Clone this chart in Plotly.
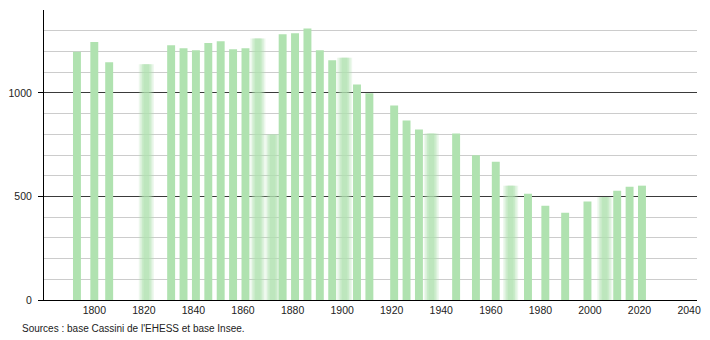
import plotly.graph_objects as go

years = [1793, 1800, 1806, 1821, 1831, 1836, 1841, 1846, 1851, 1856, 1861, 1866,
         1872, 1876, 1881, 1886, 1891, 1896, 1901, 1906, 1911, 1921, 1926, 1931,
         1936, 1946, 1954, 1962, 1968, 1975, 1982, 1990, 1999, 2006, 2011, 2016, 2021]
population = [1199, 1245, 1148, 1138, 1230, 1215, 1206, 1241, 1249, 1211, 1215, 1262,
              799, 1283, 1288, 1311, 1206, 1157, 1170, 1040, 998, 939, 867, 823,
              804, 804, 699, 667, 552, 513, 455, 421, 475, 497, 528, 547, 552]
blurred_years = [1821, 1866, 1872, 1901, 1936, 1968, 2006]

x_tick_values = list(range(1800, 2041, 20))
y_tick_values = [0, 500, 1000]
source_text = "Sources : base Cassini de l'EHESS et base Insee."

BAR_COLOR = "rgb(176,226,176)"
BAR_W = 3.2

fig = go.Figure()

sharp_x = [y for y in years if y not in blurred_years]
sharp_y = [p for y, p in zip(years, population) if y not in blurred_years]
blur_x = [y for y in years if y in blurred_years]
blur_y = [p for y, p in zip(years, population) if y in blurred_years]

fig.add_trace(go.Bar(x=sharp_x, y=sharp_y, width=BAR_W,
                     marker=dict(color=BAR_COLOR, line=dict(width=0)),
                     hoverinfo="x+y", showlegend=False))

for factor, op in [(1.9, 0.22), (1.5, 0.3), (1.1, 0.38), (0.7, 0.45)]:
    fig.add_trace(go.Bar(x=blur_x, y=blur_y, width=BAR_W * factor,
                         marker=dict(color=BAR_COLOR, line=dict(width=0)),
                         opacity=op, hoverinfo="x+y", showlegend=False))

fig.update_layout(
    width=710, height=340,
    margin=dict(l=44, r=9, t=10, b=40),
    paper_bgcolor="white", plot_bgcolor="white",
    barmode="overlay",
    font=dict(family="Liberation Sans, Arial, sans-serif", size=10.5, color="#222"),
    xaxis=dict(range=[1779.7, 2043.2], tickvals=x_tick_values,
               showgrid=False, zeroline=False,
               showline=True, linecolor="black", linewidth=1,
               ticks="", ticklen=0, tickfont=dict(size=10.5, color="#222")),
    yaxis=dict(range=[0, 1400], tickvals=y_tick_values,
               showgrid=True, gridcolor="#3a3a3a", gridwidth=1,
               zeroline=False, showline=True, linecolor="black", linewidth=1,
               ticks="outside", ticklen=5, tickcolor="black",
               ticklabelstandoff=4,
               tickfont=dict(size=10.5, color="#222"),
               minor=dict(dtick=100, showgrid=True, gridcolor="#cccccc",
                          gridwidth=1, ticks="")),
    annotations=[dict(text=source_text, xref="paper", yref="paper",
                      x=-0.0366, y=-0.0966, xanchor="left", yanchor="middle",
                      showarrow=False, font=dict(size=10, color="#222"))],
)

fig.write_html("out.html")
